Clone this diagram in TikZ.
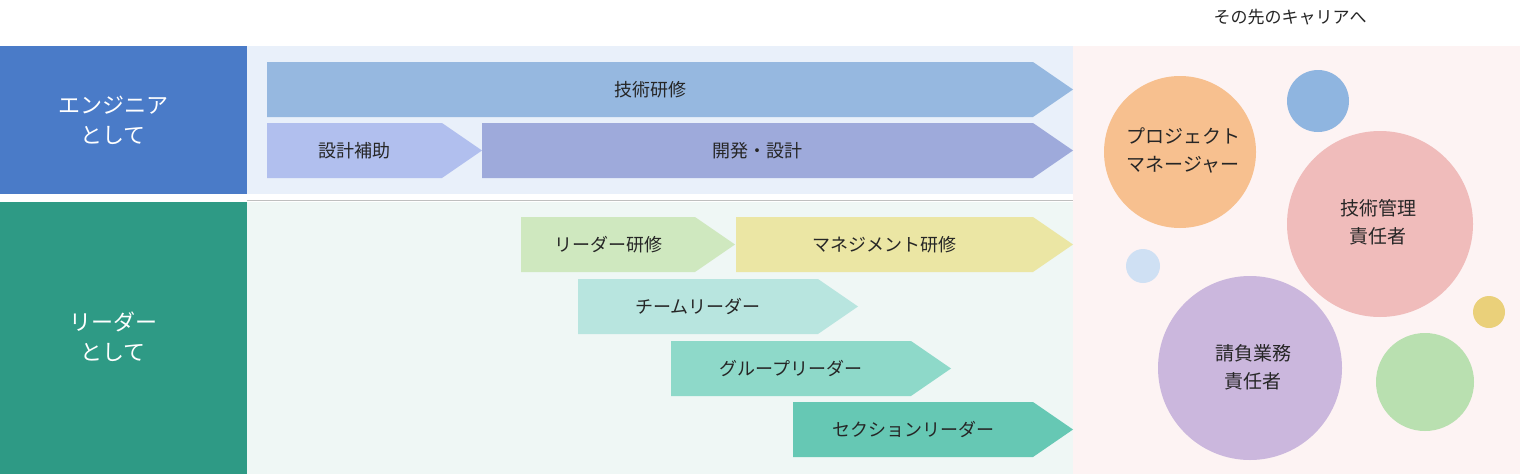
\documentclass[tikz,border=0pt]{standalone}
\usepackage{fontspec}
\newfontfamily\jp{Noto Sans CJK JP}
\definecolor{cBlue}{HTML}{4A7BC8}
\definecolor{cGreen}{HTML}{2E9A85}
\definecolor{bgBlue}{HTML}{E9F0FA}
\definecolor{bgGreen}{HTML}{EFF7F5}
\definecolor{bgPink}{HTML}{FDF3F3}
\definecolor{a1}{HTML}{96B8E0}
\definecolor{a2}{HTML}{B1BFEE}
\definecolor{a3}{HTML}{9EAADB}
\definecolor{a4}{HTML}{CFE8BF}
\definecolor{a5}{HTML}{EBE6A4}
\definecolor{a6}{HTML}{B8E5DF}
\definecolor{a7}{HTML}{8ED9C9}
\definecolor{a8}{HTML}{66C8B4}
\definecolor{c1}{HTML}{F7C08F}
\definecolor{c2}{HTML}{8FB5E0}
\definecolor{c3}{HTML}{F0BCBB}
\definecolor{c4}{HTML}{CFE0F3}
\definecolor{c5}{HTML}{EAD07A}
\definecolor{c6}{HTML}{CBB7DD}
\definecolor{c7}{HTML}{B9E0B0}
\tikzset{
  lbl/.style={text=white,font=\jp\fontsize{22}{30}\selectfont,align=center},
  atxt/.style={text=black!85,font=\jp\fontsize{18}{22}\selectfont},
  ctxt/.style={text=black!85,font=\jp\fontsize{19}{28}\selectfont,align=center}
}
\newcommand\myarr[6]{% name,x1,x2,y1,color,text
  \fill[#5] (#2,#4) -- (#3-40,#4) -- (#3,#4+27.5) -- (#3-40,#4+55) -- (#2,#4+55) -- cycle;
  \node[atxt] (#1) at ({(#2+#3-40)/2},#4+27.5) {#6};}
\begin{document}
\begin{tikzpicture}[x=1pt,y=-1pt]
\useasboundingbox (0,0) rectangle (1520,474);
\fill[white] (0,0) rectangle (1520,474);
\node[text=black!85,font=\jp\fontsize{17}{20}\selectfont] (title) at (1290,17) {その先のキャリアへ};
\fill[bgPink] (1073,46) rectangle (1520,474);
\fill[bgBlue] (247,46) rectangle (1073,194);
\fill[bgGreen] (247,202) rectangle (1073,474);
\draw[black!25,line width=0.8pt] (247,200) -- (1073,200);
\fill[cBlue] (0,46) rectangle (247,194);
\fill[cGreen] (0,202) rectangle (247,474);
\node[lbl] (eng) at (113,120) {エンジニア\\として};
\node[lbl] (lead) at (113,337) {リーダー\\として};
\myarr{t1}{267}{1073}{62}{a1}{技術研修}
\myarr{t2}{267}{482}{123}{a2}{設計補助}
\myarr{t3}{482}{1073}{123}{a3}{開発・設計}
\myarr{t4}{521}{735}{217}{a4}{リーダー研修}
\myarr{t5}{736}{1073}{217}{a5}{マネジメント研修}
\myarr{t6}{578}{858}{279}{a6}{チームリーダー}
\myarr{t7}{671}{951}{341}{a7}{グループリーダー}
\myarr{t8}{793}{1073}{402}{a8}{セクションリーダー}
\fill[c1] (1180,152) circle (76);
\fill[c2] (1318,101) circle (31);
\fill[c3] (1380,224) circle (93);
\fill[c4] (1143,266) circle (17);
\fill[c5] (1489,312) circle (16);
\fill[c6] (1250,368) circle (92);
\fill[c7] (1425,382) circle (49);
\node[ctxt] (pm) at (1183,150) {プロジェクト\\マネージャー};
\node[ctxt] (gk) at (1378,222) {技術管理\\責任者};
\node[ctxt] (uk) at (1253,367) {請負業務\\責任者};
\end{tikzpicture}
\end{document}
